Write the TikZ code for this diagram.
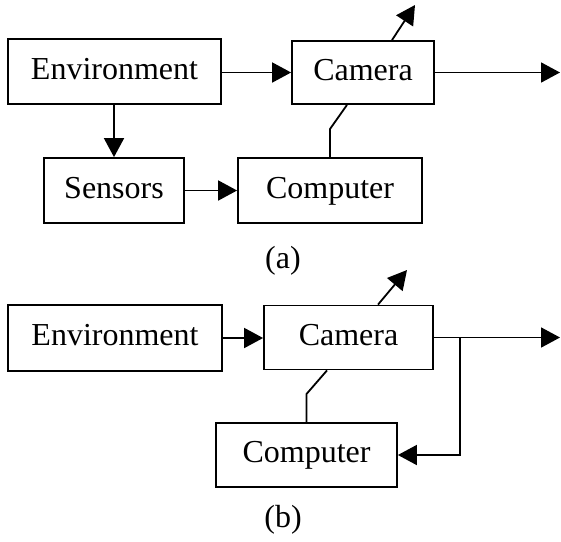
\documentclass[tikz,border=0pt]{standalone}
\usepackage{fontspec}
\setmainfont{Liberation Serif}
\usetikzlibrary{arrows.meta}
\tikzset{
  blk/.style={draw, line width=1.8pt, rectangle, inner sep=0pt,
    font=\fontsize{32}{36}\selectfont, text height=22pt, text depth=7pt},
  lbl/.style={inner sep=0pt, font=\fontsize{32}{36}\selectfont,
    text height=22pt, text depth=7pt},
  wire/.style={line width=1.8pt},
  flow/.style={line width=1.8pt, -{Triangle[length=19pt,width=20pt]}}
}
\begin{document}
\begin{tikzpicture}[x=1pt,y=-1pt]
\useasboundingbox (0,0) rectangle (561,541);

% ---- part (a) ----
\node[blk, minimum width=213pt, minimum height=65pt] (envA) at (114.5,71.5) {Environment};
\node[blk, minimum width=142pt, minimum height=63pt] (camA) at (363,72.5) {Camera};
\node[blk, minimum width=140pt, minimum height=65pt] (senA) at (114,190.5) {Sensors};
\node[blk, minimum width=184pt, minimum height=65pt] (comA) at (330,190.5) {Computer};
\node[lbl] (capA) at (283,261) {(a)};

\coordinate (outA) at (560,72.5);
\coordinate (upA) at (415,5);
\coordinate (bendA) at (330,129);

\draw[flow] (envA.east |- camA.west) -- (camA.west);
\draw[flow] (camA.east) -- (outA);
\draw[flow] ([xshift=29pt]camA.north) -- (upA);
\draw[flow] (senA.north |- envA.south) -- (senA.north);
\draw[flow] (senA.east) -- (comA.west);
\draw[wire] (comA.north) -- (bendA) -- ([xshift=-16pt]camA.south);

% ---- part (b) ----
\node[blk, minimum width=214pt, minimum height=66pt] (envB) at (115,338) {Environment};
\node[blk, minimum width=169pt, minimum height=64pt] (camB) at (348.5,337.5) {Camera};
\node[blk, minimum width=181pt, minimum height=64pt] (comB) at (306.5,455) {Computer};
\node[lbl] (capB) at (283,520) {(b)};

\coordinate (outB) at (560,337.5);
\coordinate (upB) at (407,270);
\coordinate (tapB) at (460,337.5);
\coordinate (downB) at (460,455);
\coordinate (bendB) at (306.5,394);

\draw[flow] (envB.east) -- (envB.east -| camB.west);
\draw[flow] (camB.east) -- (outB);
\draw[flow] ([xshift=29.5pt]camB.north) -- (upB);
\draw[flow] (tapB) -- (downB) -- (comB.east);
\draw[wire] (comB.north) -- (bendB) -- ([xshift=-21.5pt]camB.south);
\end{tikzpicture}
\end{document}
